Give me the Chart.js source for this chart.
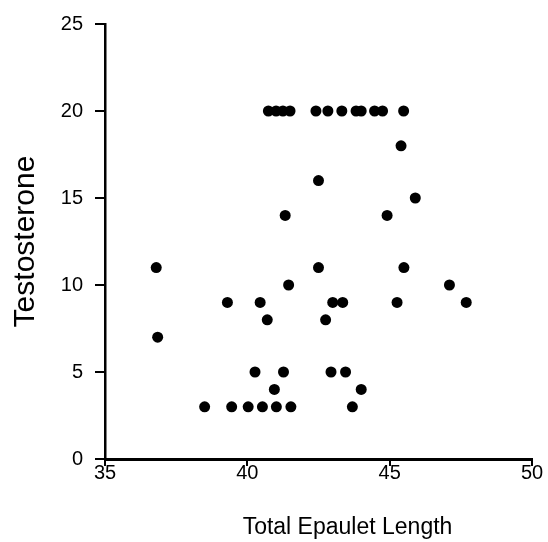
<!DOCTYPE html>
<html>
<head>
<meta charset="utf-8">
<script src="https://cdn.jsdelivr.net/npm/chart.js@4/dist/chart.umd.min.js"></script>
<style>
  html, body { margin: 0; padding: 0; background: #fff; }
  #wrap { width: 548px; height: 542px; }
</style>
</head>
<body>
<div id="wrap"><canvas id="Scatter" width="548" height="542"></canvas></div>
<script>
// epaulet length vs testosterone
const epauletLength = [
    40.74, 41.01, 41.25, 41.5, 42.41, 42.83, 43.32, 43.82, 44.0, 44.47, 44.75, 45.49,
    45.4, 42.5, 45.9, 41.33, 44.91,
    36.8, 42.5, 45.5, 41.45, 47.1,
    39.3, 40.45, 43.0, 43.35, 45.26, 47.69,
    40.7, 42.75, 36.85,
    40.27, 41.27, 42.94, 43.45, 40.95, 44.0,
    38.5, 39.45, 40.03, 40.53, 41.02, 41.53, 43.69
];
const testosterone = [
    20, 20, 20, 20, 20, 20, 20, 20, 20, 20, 20, 20,
    18, 16, 15, 14, 14,
    11, 11, 11, 10, 10,
    9, 9, 9, 9, 9, 9,
    8, 8, 7,
    5, 5, 5, 5, 4, 4,
    3, 3, 3, 3, 3, 3, 3
];
const xTicks = [35, 40, 45, 50];
const yTicks = [0, 5, 10, 15, 20, 25];
const xLabel = "Total Epaulet Length";
const yLabel = "Testosterone";

let points = epauletLength.map((x, i) => ({x: x, y: testosterone[i]}));

// x title sits a bit right of centre in the original
const xTitlePlugin = {
    id: 'xTitle',
    afterDraw(chart) {
        const ctx = chart.ctx;
        const area = chart.chartArea;
        ctx.save();
        ctx.font = '23px "Liberation Sans"';
        ctx.fillStyle = '#000';
        ctx.textAlign = 'center';
        ctx.textBaseline = 'alphabetic';
        ctx.fillText(xLabel, (area.left + area.right) / 2 + 29, 534);
        ctx.restore();
    }
};

const config = {
    type: 'scatter',
    data: {
        datasets: [{
            data: points,
            backgroundColor: '#000',
            borderColor: '#000',
            pointRadius: 5.5,
            pointHoverRadius: 5.5,
            borderWidth: 0
        }]
    },
    options: {
        responsive: false,
        animation: false,
        layout: {
            padding: {top: 19, right: 16, bottom: 0, left: 0}
        },
        plugins: {
            legend: {display: false},
            tooltip: {enabled: false}
        },
        scales: {
            x: {
                type: 'linear',
                min: 35,
                max: 50,
                afterBuildTicks(scale) {
                    scale.ticks = xTicks.map(v => ({value: v}));
                },
                afterFit(scale) {
                    scale.height = 83;
                },
                ticks: {
                    color: '#000',
                    font: {family: 'Liberation Sans', size: 20},
                    padding: -5,
                    maxRotation: 0
                },
                grid: {
                    display: true,
                    drawOnChartArea: false,
                    drawTicks: true,
                    tickLength: 7,
                    color: '#000',
                    lineWidth: 2
                },
                border: {display: true, color: '#000', width: 3}
            },
            y: {
                type: 'linear',
                min: 0,
                max: 25,
                afterBuildTicks(scale) {
                    scale.ticks = yTicks.map(v => ({value: v}));
                },
                afterFit(scale) {
                    scale.width = 105;
                },
                ticks: {
                    color: '#000',
                    font: {family: 'Liberation Sans', size: 20},
                    padding: 12
                },
                grid: {
                    display: true,
                    drawOnChartArea: false,
                    drawTicks: true,
                    tickLength: 10,
                    color: '#000',
                    lineWidth: 2
                },
                border: {display: true, color: '#000', width: 2.5},
                title: {
                    display: true,
                    text: yLabel,
                    color: '#000',
                    font: {family: 'Liberation Sans', size: 30, weight: 'normal'},
                    padding: {top: 8, bottom: 0}
                }
            }
        }
    },
    plugins: [xTitlePlugin]
};

let scatter = new Chart(document.getElementById('Scatter'), config);
</script>
</body>
</html>
